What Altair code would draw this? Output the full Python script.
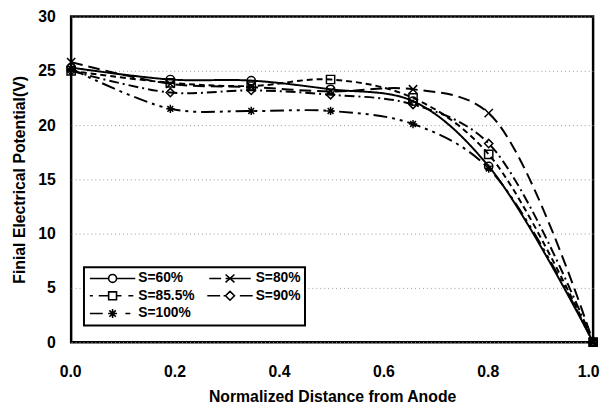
import altair as alt
import pandas as pd

# ---- data ----
x_pos = [0.0, 0.19, 0.345, 0.497, 0.655, 0.80, 1.0]
series_names = ["S=60%", "S=80%", "S=85.5%", "S=90%", "S=100%"]
s60 = [25.3, 24.2, 24.1, 23.3, 22.2, 16.2, 0.0]
s80 = [25.8, 23.8, 23.5, 23.1, 23.3, 21.1, 0.0]
s855 = [25.0, 23.9, 23.6, 24.2, 22.5, 17.3, 0.0]
s90 = [25.0, 23.0, 23.2, 22.8, 21.9, 18.3, 0.0]
s100 = [25.2, 21.5, 21.3, 21.3, 20.1, 16.0, 0.0]
x_ticks = [0.0, 0.2, 0.4, 0.6, 0.8, 1.0]
y_ticks = [0, 5, 10, 15, 20, 25, 30]
# legend is filled column by column: this order gives rows 60/80, 85.5/90, 100
legend_order = ["S=60%", "S=85.5%", "S=100%", "S=80%", "S=90%"]

all_vals = [s60, s80, s855, s90, s100]
rows = []
for name, vals in zip(series_names, all_vals):
    for xv, yv in zip(x_pos, vals):
        rows.append({"x": xv, "v": yv, "series": name})
df = pd.DataFrame(rows)

# ---- styles ----
dashes = [[1, 0], [12, 6], [6, 4], [10, 4, 2, 4], [14, 5, 3, 5, 3, 5]]
marker_shapes = [
    "circle",
    "M-1,-1L1,1M-1,1L1,-1",
    "square",
    "diamond",
    "M-1,0L1,0M0,-1L0,1M-0.7,-0.7L0.7,0.7M-0.7,0.7L0.7,-0.7",
]
circ = "M0.8,0A0.8,0.8 0 1 1 -0.8,0A0.8,0.8 0 1 1 0.8,0"
legend_shape_map = {
    "S=60%": "M-4.6,0H-0.8M0.8,0H4.6" + circ,
    "S=80%": "M-4.2,0H-1.8M-0.9,-0.8L0.9,0.8M-0.9,0.8L0.9,-0.8M-0.9,0H4.2",
    "S=85.5%": "M-4.6,0H-4M-2.8,0H-0.8M-0.8,-0.8H0.8V0.8H-0.8ZM0.8,0H1.8M3.2,0H4.2",
    "S=90%": "M-4.6,0H-2M-1.3,0H-0.9M0,-0.9L0.9,0L0,0.9L-0.9,0ZM2,0H4.6",
    "S=100%": "M-4.6,0H-2M-0.9,0L0.9,0M0,-0.9L0,0.9M-0.65,-0.65L0.65,0.65M-0.65,0.65L0.65,-0.65M2.6,0H3.6",
}
legend_shapes = [legend_shape_map[n] for n in legend_order]

FONT = "Liberation Sans"

xenc = alt.X(
    "x:Q",
    scale=alt.Scale(domain=[0, 1], nice=False),
    axis=alt.Axis(
        values=x_ticks, format=".1f", title="Normalized Distance from Anode",
        grid=False, ticks=False, domain=False, labelPadding=22, titlePadding=9,
        labelFlush=False,
        labelOffset={"condition": {"test": "datum.value == 1", "value": -5}, "value": -1},
    ),
)
yenc = alt.Y(
    "v:Q",
    scale=alt.Scale(domain=[0, 30], nice=False),
    axis=alt.Axis(
        values=y_ticks, format="d", title="Finial Electrical Potential(V)",
        grid=True, gridDash=[1, 3], gridColor="#999999", gridWidth=1,
        ticks=False, domain=False, labelPadding=16, titlePadding=10,
    ),
)

lines = alt.Chart(df).mark_line(
    interpolate="catmull-rom", color="black", strokeWidth=2
).encode(
    x=xenc, y=yenc,
    strokeDash=alt.StrokeDash(
        "series:N", scale=alt.Scale(domain=series_names, range=dashes), legend=None
    ),
)

points = alt.Chart(df).mark_point(
    filled=False, color="black", size=70, strokeWidth=1.5, opacity=1
).encode(
    x=xenc, y=yenc,
    shape=alt.Shape(
        "series:N", scale=alt.Scale(domain=series_names, range=marker_shapes), legend=None
    ),
)

legend_layer = alt.Chart(df).mark_point(
    filled=False, color="black", opacity=0
).encode(
    x=xenc, y=yenc,
    shape=alt.Shape(
        "series:N",
        scale=alt.Scale(domain=legend_order, range=legend_shapes),
        legend=alt.Legend(
            title=None, orient="none", legendX=13, legendY=254, columns=2,
            symbolSize=100, symbolOffset=18, labelOffset=19,
            symbolOpacity=1, symbolStrokeColor="black", symbolFillColor="transparent",
            symbolStrokeWidth=1.6, columnPadding=8, rowPadding=2,
            labelFont=FONT, labelFontSize=14, labelFontWeight="bold", labelColor="black",
            strokeColor="black", fillColor="white", padding=4,
        ),
    ),
)

chart = alt.layer(lines, points, legend_layer).resolve_scale(
    shape="independent"
).properties(
    width=529, height=330,
    autosize=alt.AutoSizeParams(type="none"),
    padding={"left": 64, "top": 6, "right": 8, "bottom": 60},
).configure_view(
    stroke="black", strokeWidth=2.5
).configure_axis(
    labelFont=FONT, labelFontSize=16, labelFontWeight="bold", labelColor="black",
    titleFont=FONT, titleFontSize=16, titleFontWeight="bold", titleColor="black",
).configure_legend(
    strokeWidth=2
)

chart.save("out.html", embed_options={"renderer": "svg", "actions": False})
